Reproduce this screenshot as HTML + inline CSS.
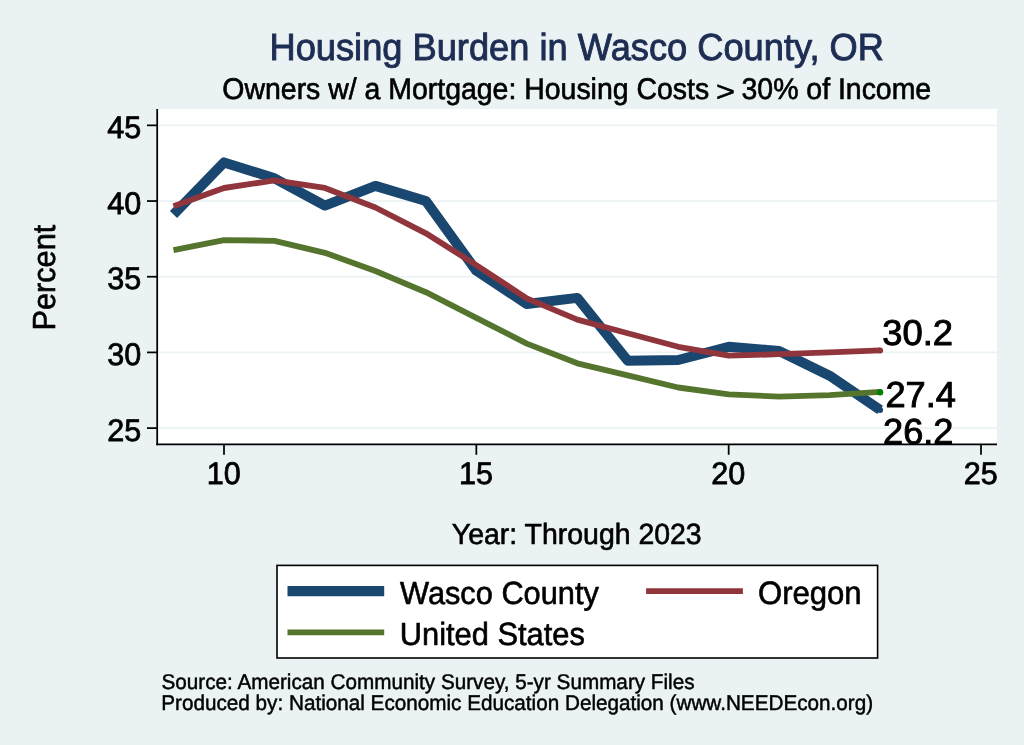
<!DOCTYPE html>
<html lang="en"><head><meta charset="utf-8"><title>Housing Burden in Wasco County, OR</title>
<style>html,body{margin:0;padding:0;background:#eaf2f3;}svg{display:block;}text{font-family:"Liberation Sans", Arial, Helvetica, sans-serif;text-rendering:geometricPrecision;}</style></head><body>
<svg width="1024" height="745" viewBox="0 0 1024 745">
<rect x="0" y="0" width="1024" height="745" fill="#eaf2f3"/>
<rect x="157" y="109" width="840" height="335.5" fill="#ffffff"/>
<line x1="159" x2="997" y1="428.10" y2="428.10" stroke="#eaf2f3" stroke-width="1.7"/>
<line x1="159" x2="997" y1="352.41" y2="352.41" stroke="#eaf2f3" stroke-width="1.7"/>
<line x1="159" x2="997" y1="276.73" y2="276.73" stroke="#eaf2f3" stroke-width="1.7"/>
<line x1="159" x2="997" y1="201.04" y2="201.04" stroke="#eaf2f3" stroke-width="1.7"/>
<line x1="159" x2="997" y1="125.35" y2="125.35" stroke="#eaf2f3" stroke-width="1.7"/>
<polyline points="173.5,214.4 224.0,162.4 274.5,178.3 324.9,205.6 375.4,185.9 425.9,201.0 476.3,270.7 526.8,304.0 577.3,297.9 627.7,360.7 678.2,360.0 728.7,346.8 779.1,350.9 829.6,375.7 880.1,409.9" fill="none" stroke="#1a476f" stroke-width="10" stroke-linejoin="round" stroke-linecap="butt"/>
<polyline points="173.5,206.3 224.0,188.0 274.5,180.3 324.9,187.9 375.4,207.5 425.9,233.3 476.3,265.1 526.8,298.4 577.3,319.6 627.7,333.2 678.2,346.8 728.7,355.7 779.1,354.2 829.6,352.4 880.1,350.4" fill="none" stroke="#90353b" stroke-width="5.85" stroke-linejoin="round" stroke-linecap="butt"/>
<polyline points="173.5,250.2 224.0,240.1 274.5,240.8 324.9,252.8 375.4,271.0 425.9,292.2 476.3,317.9 526.8,343.6 577.3,363.3 627.7,375.4 678.2,387.5 728.7,394.3 779.1,396.6 829.6,395.1 880.1,391.8" fill="none" stroke="#55752f" stroke-width="5.85" stroke-linejoin="round" stroke-linecap="butt"/>
<circle cx="880.1" cy="409.9" r="3" fill="#1a476f"/>
<circle cx="880.1" cy="350.4" r="3" fill="#90353b"/>
<circle cx="880.1" cy="392.2" r="3.2" fill="#008000"/>
<text transform="translate(882.3 345) scale(1 0.99)" font-size="36.35" fill="#000" stroke="#000" stroke-width="0.95">30.2</text>
<text transform="translate(885.4 407) scale(1 1.0)" font-size="36.2" fill="#000" stroke="#000" stroke-width="0.95">27.4</text>
<text transform="translate(883.0 444) scale(1 1.0)" font-size="36.2" fill="#000" stroke="#000" stroke-width="0.95">26.2</text>
<g stroke="#000" stroke-width="1.75" fill="none">
<line x1="157.2" x2="157.2" y1="109" y2="445.3"/>
<line x1="156.3" x2="997" y1="444.45" y2="444.45"/>
<line x1="147" x2="157" y1="428.10" y2="428.10"/>
<line x1="147" x2="157" y1="352.41" y2="352.41"/>
<line x1="147" x2="157" y1="276.73" y2="276.73"/>
<line x1="147" x2="157" y1="201.04" y2="201.04"/>
<line x1="147" x2="157" y1="125.35" y2="125.35"/>
<line x1="224.00" x2="224.00" y1="444.45" y2="454.8"/>
<line x1="476.33" x2="476.33" y1="444.45" y2="454.8"/>
<line x1="728.67" x2="728.67" y1="444.45" y2="454.8"/>
<line x1="981.00" x2="981.00" y1="444.45" y2="454.8"/>
</g>
<text transform="translate(141.3 441) scale(1 1.02)" font-size="30.6" fill="#000" stroke="#000" stroke-width="0.75" text-anchor="end">25</text>
<text transform="translate(141.3 365) scale(1 1.02)" font-size="30.6" fill="#000" stroke="#000" stroke-width="0.75" text-anchor="end">30</text>
<text transform="translate(141.3 289) scale(1 1.02)" font-size="30.6" fill="#000" stroke="#000" stroke-width="0.75" text-anchor="end">35</text>
<text transform="translate(141.3 214) scale(1 1.02)" font-size="30.6" fill="#000" stroke="#000" stroke-width="0.75" text-anchor="end">40</text>
<text transform="translate(141.3 138) scale(1 1.02)" font-size="30.6" fill="#000" stroke="#000" stroke-width="0.75" text-anchor="end">45</text>
<text transform="translate(223.7 484) scale(1 1.02)" font-size="30.6" fill="#000" stroke="#000" stroke-width="0.75" text-anchor="middle">10</text>
<text transform="translate(476.03 484) scale(1 1.02)" font-size="30.6" fill="#000" stroke="#000" stroke-width="0.75" text-anchor="middle">15</text>
<text transform="translate(728.37 484) scale(1 1.02)" font-size="30.6" fill="#000" stroke="#000" stroke-width="0.75" text-anchor="middle">20</text>
<text transform="translate(980.71 484) scale(1 1.02)" font-size="30.6" fill="#000" stroke="#000" stroke-width="0.75" text-anchor="middle">25</text>
<text transform="translate(576.7 60) scale(1 1.04)" font-size="36.25" fill="#1e2d53" stroke="#1e2d53" stroke-width="0.9" text-anchor="middle">Housing Burden in Wasco County, OR</text>
<text transform="translate(222.35 99) scale(1 1.05)" font-size="28.45" fill="#000" stroke="#000" stroke-width="0.6">Owners w/ a Mortgage: Housing Costs</text>
<text transform="translate(725.45 101) scale(1.14 0.99)" font-size="28.45" fill="#000" stroke="#000" stroke-width="0.55" text-anchor="middle">&gt;</text>
<text transform="translate(741.5 99) scale(1 1.05)" font-size="28.45" fill="#000" stroke="#000" stroke-width="0.6">30% of Income</text>
<text transform="translate(576.75 544) scale(1 1.025)" font-size="28.45" fill="#000" stroke="#000" stroke-width="0.6" text-anchor="middle">Year: Through 2023</text>
<text transform="translate(55 277.65) rotate(-90) scale(1 1.04)" font-size="30.7" fill="#000" stroke="#000" stroke-width="0.6" text-anchor="middle">Percent</text>
<rect x="277" y="565.4" width="600.6" height="92.6" fill="#ffffff" stroke="#000" stroke-width="1.6"/>
<line x1="287.5" x2="384.2" y1="591.1" y2="591.1" stroke="#1a476f" stroke-width="10.05"/>
<line x1="287.5" x2="384.2" y1="632.3" y2="632.3" stroke="#55752f" stroke-width="5.75"/>
<line x1="646.1" x2="742.9" y1="591.1" y2="591.1" stroke="#90353b" stroke-width="5.75"/>
<text transform="translate(400.0 604) scale(1 1.04)" font-size="30.75" fill="#000" stroke="#000" stroke-width="0.6">Wasco County</text>
<text transform="translate(399.7 645) scale(1 1.04)" font-size="30.85" fill="#000" stroke="#000" stroke-width="0.6">United States</text>
<text transform="translate(757.95 604) scale(1 1.04)" font-size="31.1" fill="#000" stroke="#000" stroke-width="0.6">Oregon</text>
<text transform="translate(161.5 689) scale(1 1.03)" font-size="20.69" fill="#000" stroke="#000" stroke-width="0.45">Source: American Community Survey, 5-yr Summary Files</text>
<text transform="translate(161.3 710) scale(1 1.03)" font-size="20.69" fill="#000" stroke="#000" stroke-width="0.45">Produced by: National Economic Education Delegation (www.NEEDEcon.org)</text>
</svg></body></html>
